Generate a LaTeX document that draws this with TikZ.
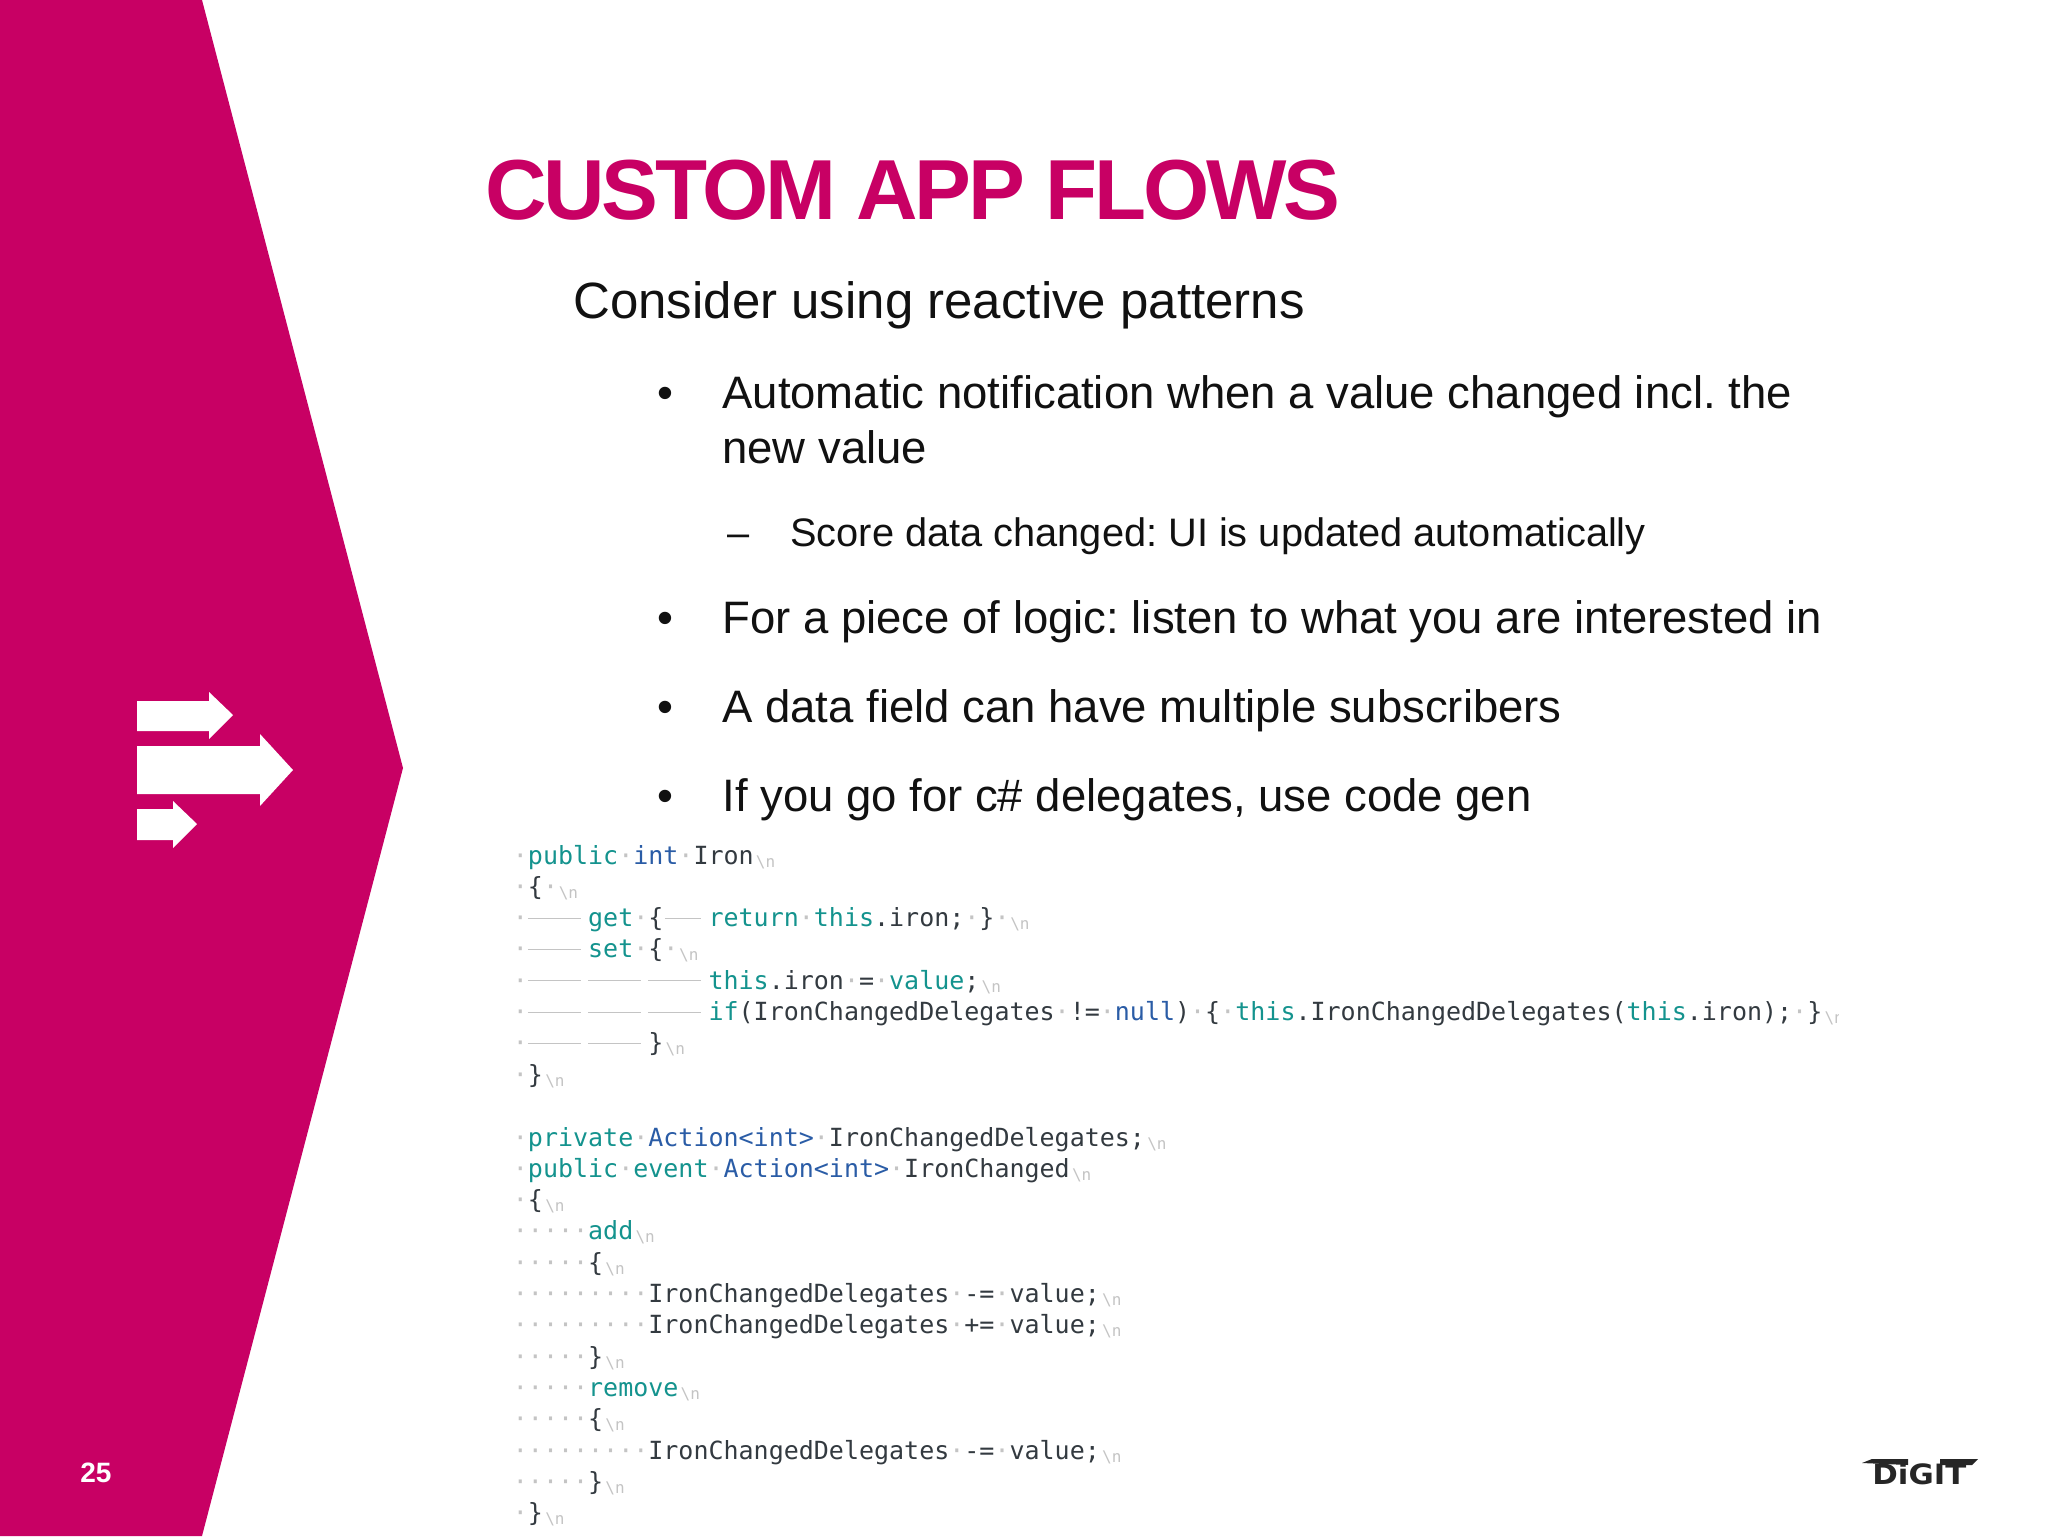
\documentclass[tikz,border=0pt]{standalone}
\usepackage{graphicx}
\usepackage{fontspec}
\setmainfont{Liberation Sans}
\newfontfamily\codefont{DejaVu Sans Mono}
\newfontfamily\logofont{DejaVu Sans Bold}
\definecolor{slidepink}{HTML}{C80064}
\definecolor{kwteal}{HTML}{14938E}
\definecolor{tyblue}{HTML}{2A5CA6}
\definecolor{codedark}{HTML}{333A40}
\definecolor{wsgray}{HTML}{C4C4C4}
\definecolor{bodyblack}{HTML}{111111}
\newlength\cw
\setlength\cw{7.525pt}
\newcommand{\cKw}[1]{\textcolor{kwteal}{#1}}
\newcommand{\cTy}[1]{\textcolor{tyblue}{#1}}
\newcommand{\wsd}{\makebox[\cw][c]{\textcolor{wsgray}{·}}}
\newcommand{\tbl}{\makebox[4\cw][l]{\textcolor{wsgray}{\rule[0.32em]{3.5\cw}{0.5pt}}}}
\newcommand{\tbs}{\makebox[3\cw][r]{\textcolor{wsgray}{\rule[0.32em]{2.4\cw}{0.5pt}}\hspace{0.5\cw}}}
\newcommand{\nlm}{\hspace{0.15\cw}\raisebox{-1.5pt}{\fontsize{8}{8}\selectfont\textcolor{wsgray}{\textbackslash n}}}
\tikzset{
  codeline/.style={anchor=base west,inner sep=0pt,font=\codefont\fontsize{12.5}{12.5}\selectfont,text=codedark},
  bodytext/.style={anchor=base west,inner sep=0pt,text=bodyblack},
  lvlone/.style={bodytext,font=\fontsize{25.5}{25.5}\selectfont\frenchspacing},
  lvltwo/.style={bodytext,font=\fontsize{22.74}{22.74}\selectfont\frenchspacing},
  lvlthree/.style={bodytext,font=\fontsize{19.88}{19.88}\selectfont\frenchspacing},
  whitearrow/.style={fill=white,draw=none}
}
\begin{document}
\begin{tikzpicture}[x=0.5pt,y=-0.5pt]
\useasboundingbox (0,0) rectangle (2048,1536);
\fill[white] (0,0) rectangle (2048,1536);
% chevron band
\fill[slidepink] (0,0) -- (202,0) -- (403,768) -- (202,1536) -- (0,1536) -- cycle;
% arrows
\fill[whitearrow] (137,701) -- (209,701) -- (209,692) -- (233,715) -- (209,739) -- (209,731) -- (137,731) -- cycle;
\fill[whitearrow] (137,746) -- (260,746) -- (260,734) -- (293,770) -- (260,806) -- (260,794) -- (137,794) -- cycle;
\fill[whitearrow] (137,809) -- (173,809) -- (173,801) -- (197,824) -- (173,848) -- (173,840) -- (137,840) -- cycle;
% title
\node[anchor=base west,inner sep=0pt,text=slidepink] (title) at (485,219)
  {\fontsize{42.6}{42.6}\selectfont\bfseries\addfontfeature{LetterSpace=-3.9}CUSTOM APP FLOWS};
% body
\node[lvlone] (t1) at (573,318) {Consider using reactive patterns};
\node[lvltwo] (b1) at (657,408.5) {•};
\node[lvltwo] (t2) at (722,408.5) {Automatic notification when a value changed incl. the};
\node[lvltwo] (t2b) at (722,463.5) {new value};
\node[lvlthree] (d1) at (727,546) {–};
\node[lvlthree] (t3) at (790,546) {Score data changed: UI is updated automatically};
\node[lvltwo] (b2) at (657,633.5) {•};
\node[lvltwo] (t4) at (722,633.5) {For a piece of logic: listen to what you are interested in};
\node[lvltwo] (b3) at (657,722.5) {•};
\node[lvltwo] (t5) at (722,722.5) {A data field can have multiple subscribers};
\node[lvltwo] (b4) at (657,811.5) {•};
\node[lvltwo] (t6) at (722,811.5) {If you go for c\# delegates, use code gen};
% code
\begin{scope}
\clip (490,830) rectangle (1838,1536);
\node[codeline] (c1) at (512.5,864) {\wsd\cKw{public}\wsd\cTy{int}\wsd Iron\nlm};
\node[codeline] (c2) at (512.5,895.3) {\wsd\{\wsd\hspace{-0.1\cw}\nlm};
\node[codeline] (c3) at (512.5,926.6) {\wsd\tbl\cKw{get}\wsd\{\tbs\cKw{return}\wsd\cKw{this}.iron;\wsd\}\wsd\hspace{-0.1\cw}\nlm};
\node[codeline] (c4) at (512.5,957.9) {\wsd\tbl\cKw{set}\wsd\{\wsd\hspace{-0.1\cw}\nlm};
\node[codeline] (c5) at (512.5,989.2) {\wsd\tbl\tbl\tbl\cKw{this}.iron\wsd=\wsd\cKw{value};\nlm};
\node[codeline] (c6) at (512.5,1020.5) {\wsd\tbl\tbl\tbl\cKw{if}(IronChangedDelegates\wsd!=\wsd\cTy{null})\wsd\{\wsd\cKw{this}.IronChangedDelegates(\cKw{this}.iron);\wsd\}\nlm};
\node[codeline] (c7) at (512.5,1051.8) {\wsd\tbl\tbl\}\nlm};
\node[codeline] (c8) at (512.5,1083.1) {\wsd\}\nlm};
\node[codeline] (c9) at (512.5,1146) {\wsd\cKw{private}\wsd\cTy{Action<int>}\wsd IronChangedDelegates;\nlm};
\node[codeline] (c10) at (512.5,1177.3) {\wsd\cKw{public}\wsd\cKw{event}\wsd\cTy{Action<int>}\wsd IronChanged\nlm};
\node[codeline] (c11) at (512.5,1208.6) {\wsd\{\nlm};
\node[codeline] (c12) at (512.5,1239.9) {\wsd\wsd\wsd\wsd\wsd\cKw{add}\nlm};
\node[codeline] (c13) at (512.5,1271.2) {\wsd\wsd\wsd\wsd\wsd\{\nlm};
\node[codeline] (c14) at (512.5,1302.5) {\wsd\wsd\wsd\wsd\wsd\wsd\wsd\wsd\wsd IronChangedDelegates\wsd-=\wsd value;\nlm};
\node[codeline] (c15) at (512.5,1333.8) {\wsd\wsd\wsd\wsd\wsd\wsd\wsd\wsd\wsd IronChangedDelegates\wsd+=\wsd value;\nlm};
\node[codeline] (c16) at (512.5,1365.1) {\wsd\wsd\wsd\wsd\wsd\}\nlm};
\node[codeline] (c17) at (512.5,1396.4) {\wsd\wsd\wsd\wsd\wsd\cKw{remove}\nlm};
\node[codeline] (c18) at (512.5,1427.7) {\wsd\wsd\wsd\wsd\wsd\{\nlm};
\node[codeline] (c19) at (512.5,1459) {\wsd\wsd\wsd\wsd\wsd\wsd\wsd\wsd\wsd IronChangedDelegates\wsd-=\wsd value;\nlm};
\node[codeline] (c20) at (512.5,1490.3) {\wsd\wsd\wsd\wsd\wsd\}\nlm};
\node[codeline] (c21) at (512.5,1521.6) {\wsd\}\nlm};
\end{scope}
% page number
\node[anchor=base,inner sep=0pt,text=white] (pg) at (96,1482) {\fontsize{14}{14}\selectfont\bfseries 25};
% logo
\node[anchor=base west,inner sep=0pt,text=black!85] (logo) at (1872,1484)
  {\scalebox{1.1}[1]{\logofont\fontsize{14}{14}\selectfont DiGIT}};
\fill[black!85] (1862,1463) -- (1872,1459) -- (1908,1459) -- (1908,1465) -- cycle;
\fill[black!85] (1940,1459) -- (1978,1459) -- (1972,1465) -- (1940,1465) -- cycle;
\end{tikzpicture}
\end{document}
